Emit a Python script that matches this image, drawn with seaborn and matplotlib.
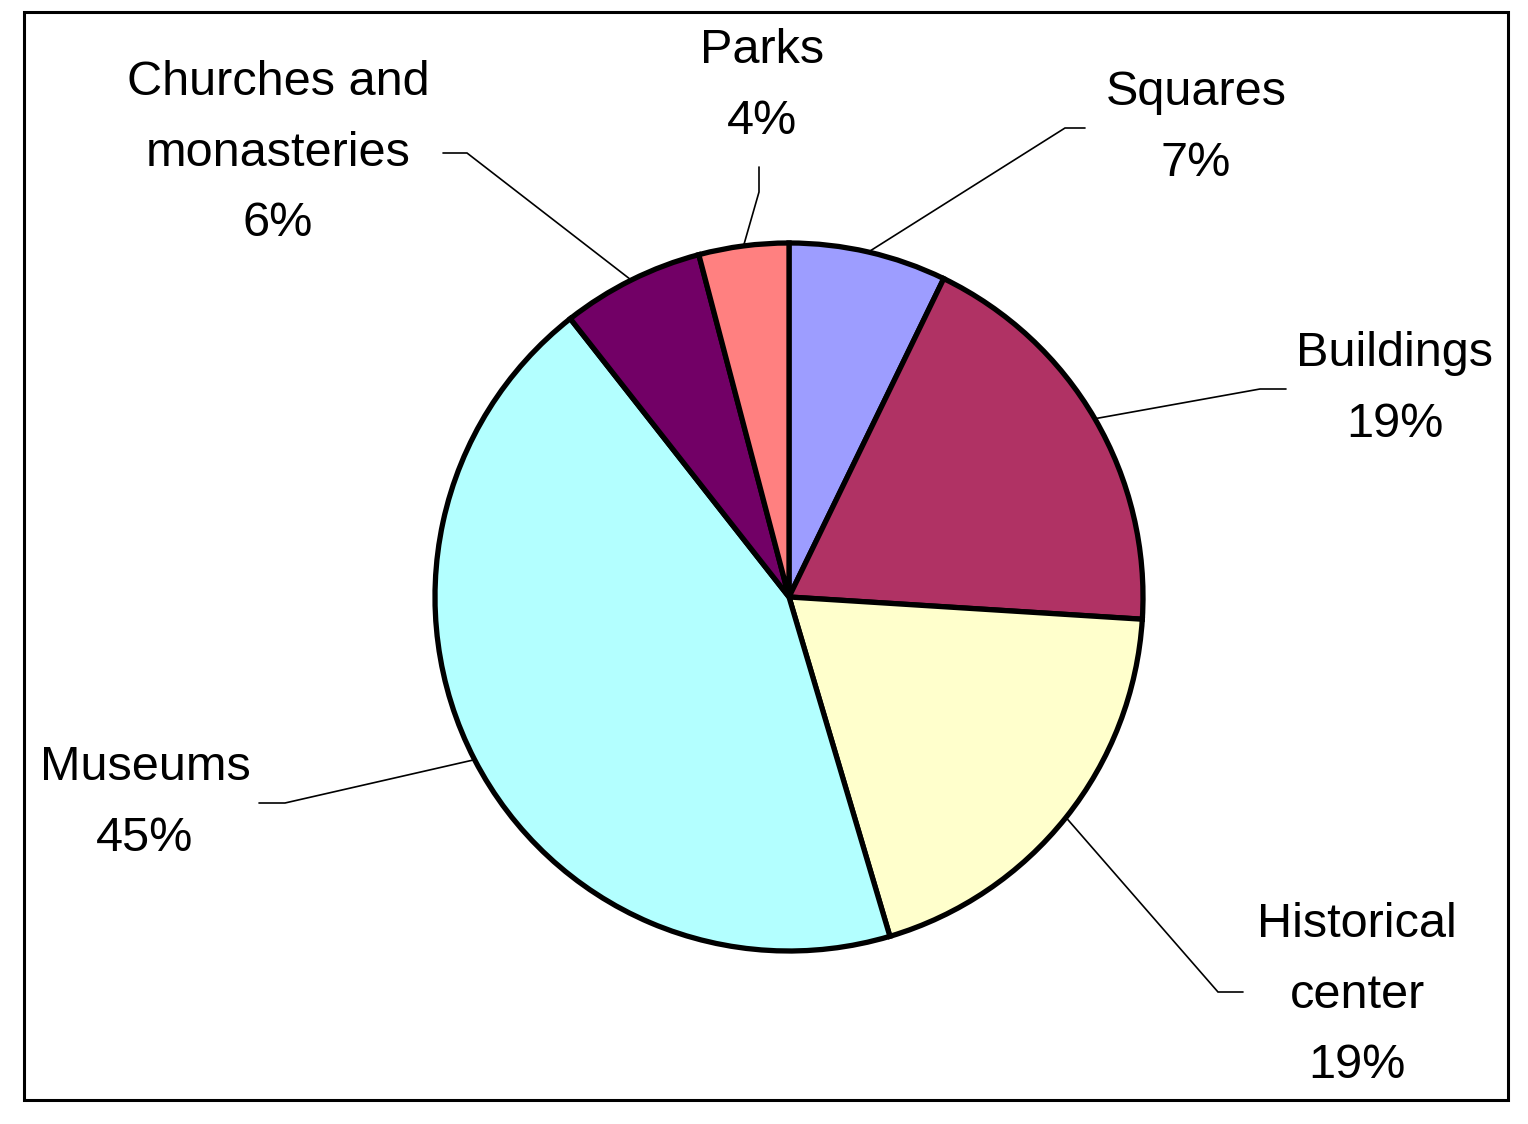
import numpy as np
import matplotlib
matplotlib.use("Agg")
import matplotlib.pyplot as plt
from matplotlib.patches import Rectangle
import seaborn as sns

# data (clockwise from 12 o'clock)
categories = ["Squares", "Buildings", "Historical\ncenter", "Museums",
              "Churches and\nmonasteries", "Parks"]
shares = [7.2, 18.8, 19.4, 44.0, 6.5, 4.1]
pct_labels = ["7%", "19%", "19%", "45%", "6%", "4%"]
colors = ["#9D9DFF", "#B03264", "#FFFFCC", "#B3FFFF", "#720066", "#FF8080"]

sns.set_style("white")
plt.rcParams["font.family"] = ["Liberation Sans", "DejaVu Sans"]

W, H = 1528, 1124
fig = plt.figure(figsize=(W / 100, H / 100), dpi=100)
ax = fig.add_axes([0, 0, 1, 1])


def px(x, y):
    # picture coords (y down) -> axes coords (y up)
    return x, H - y


cx, cy = px(789, 597)
r = 354
wedges, _ = ax.pie(shares, colors=sns.color_palette(colors), startangle=90,
                   counterclock=False, center=(cx, cy), radius=r,
                   wedgeprops=dict(edgecolor="black", linewidth=3.8))

# pie() resets the limits, so set the pixel frame afterwards
ax.set_xlim(0, W)
ax.set_ylim(0, H)
ax.set_aspect("equal")
ax.axis("off")

# label layout: text centre x, cap top y, leader elbow, leader end
layout = [
    (1196, 70, (1065, 128), (1085, 128)),
    (1395, 331, (1260, 389), (1286, 389)),
    (1357, 902, (1218, 992), (1243, 992)),
    (145, 745, (285, 803), (259, 803)),
    (278, 60, (467, 153), (443, 153)),
    (762, 28, (759, 192), (759, 167)),
]

for w, name, pct, (tx, ty, elbow, end) in zip(wedges, categories, pct_labels, layout):
    mid = np.deg2rad((w.theta1 + w.theta2) / 2)
    sx, sy = cx + r * np.cos(mid), cy + r * np.sin(mid)
    ex, ey = px(*elbow)
    fx, fy = px(*end)
    ax.plot([sx, ex, fx], [sy, ey, fy], color="black", lw=1.2,
            solid_joinstyle="miter", zorder=0)
    ax.text(*px(tx, ty), f"{name}\n{pct}", ha="center", va="top",
            multialignment="center", fontsize=35, linespacing=1.73,
            color="black")

ax.add_patch(Rectangle(px(24, 1100), 1508 - 24, 1100 - 12, fill=False,
                       edgecolor="black", lw=2.2, zorder=5))

fig.savefig("out.png", dpi=100, facecolor="white")
